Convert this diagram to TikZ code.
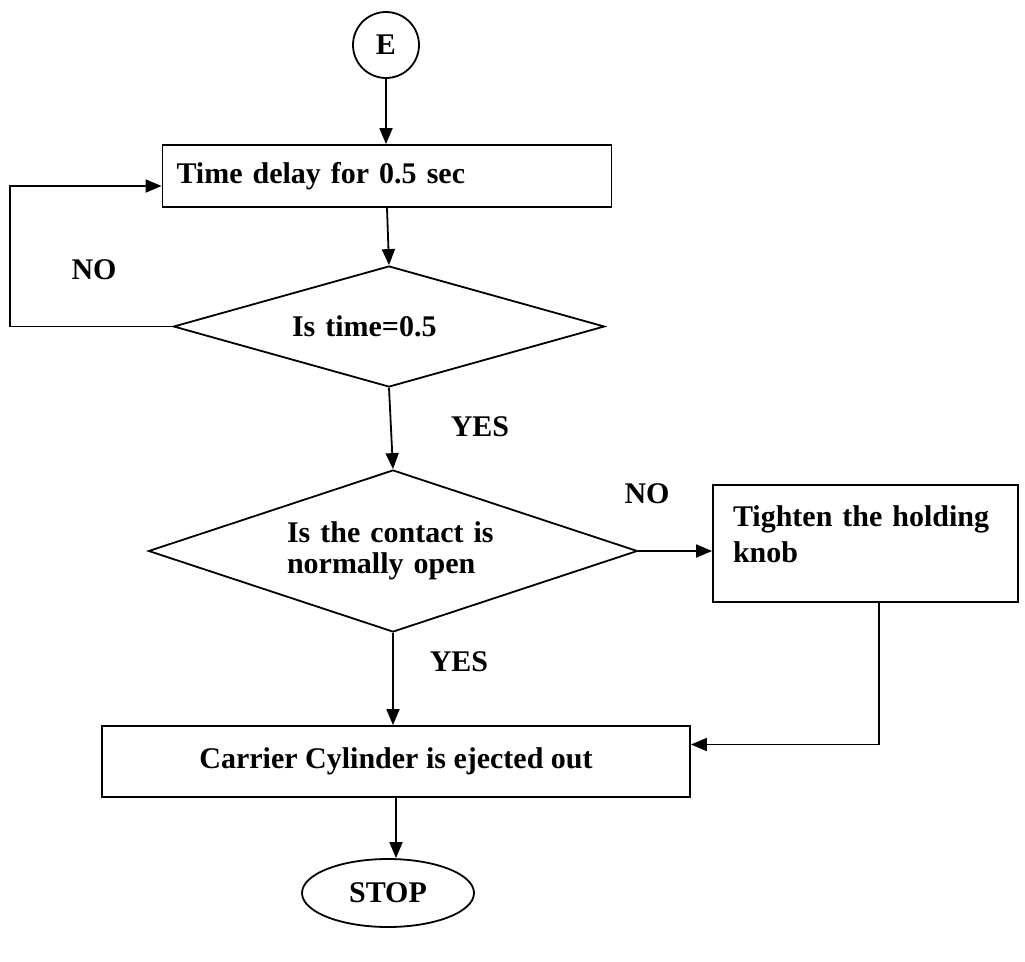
\documentclass[tikz,border=0pt]{standalone}
\usepackage{fontspec}
\setmainfont{Liberation Serif}
\usetikzlibrary{shapes.geometric,arrows.meta}
\begin{document}
\begin{tikzpicture}[x=1pt, y=-1pt, line width=1.8pt,
  font=\fontsize{30}{31}\selectfont\bfseries,
  >={Triangle[length=16pt,width=13pt]},
  box/.style={draw, rectangle, inner sep=0pt},
  decision/.style={draw, diamond, aspect=3, inner sep=0pt, align=left},
  lbl/.style={inner sep=0pt}]
  \useasboundingbox (0,0) rectangle (1025,961);
  \node[draw, circle, minimum size=66pt, inner sep=0pt] (start) at (386,45) {E};
  \node[box, minimum width=449pt, minimum height=62pt, text width=421pt, align=left] (delay) at (387,176) {Time delay for 0.5 sec};
  \node[decision, minimum width=431pt, minimum height=121pt, text width=194pt] (timechk) at (389,326.5) {Is time=0.5};
  \node[decision, minimum width=489pt, minimum height=162pt, text width=212pt] (contact) at (393,551) {Is the contact is\\normally open};
  \node[box, minimum width=305pt, minimum height=117pt, text width=265pt, align=left, font=\fontsize{30}{36}\selectfont\bfseries] (tighten) at (865.5,543.5) {Tighten the holding\\knob\\[-18pt]\mbox{}};
  \node[box, minimum width=588pt, minimum height=71pt] (eject) at (396,761.5) {Carrier Cylinder is ejected out};
  \node[draw, ellipse, minimum width=172pt, minimum height=68pt, inner sep=0pt] (stop) at (388,893) {STOP};
  \node[lbl] (no1) at (94,270) {NO};
  \node[lbl] (yes1) at (480,427) {YES};
  \node[lbl] (no2) at (647,494) {NO};
  \node[lbl] (yes2) at (459,662) {YES};
  \coordinate (loop) at (10,0);
  \coordinate (entry) at ([yshift=-10pt]delay.west);
  \coordinate (drop) at ([xshift=13.5pt]tighten.south);
  \coordinate (merge) at ([yshift=17pt]eject.east);
  \draw[->] (start) -- (start |- delay.north);
  \draw[->] (delay.south) -- (timechk.north);
  \draw[->] (timechk.west) -| (loop |- entry) -- (entry);
  \draw[->] (timechk.south) -- (contact.north);
  \draw[->] (contact.east) -- (contact.east -| tighten.west);
  \draw[->] (contact.south) -- (contact.south |- eject.north);
  \draw[->] (drop) |- (merge);
  \draw[->] (eject.south) -- (eject.south |- stop.north);
\end{tikzpicture}
\end{document}
